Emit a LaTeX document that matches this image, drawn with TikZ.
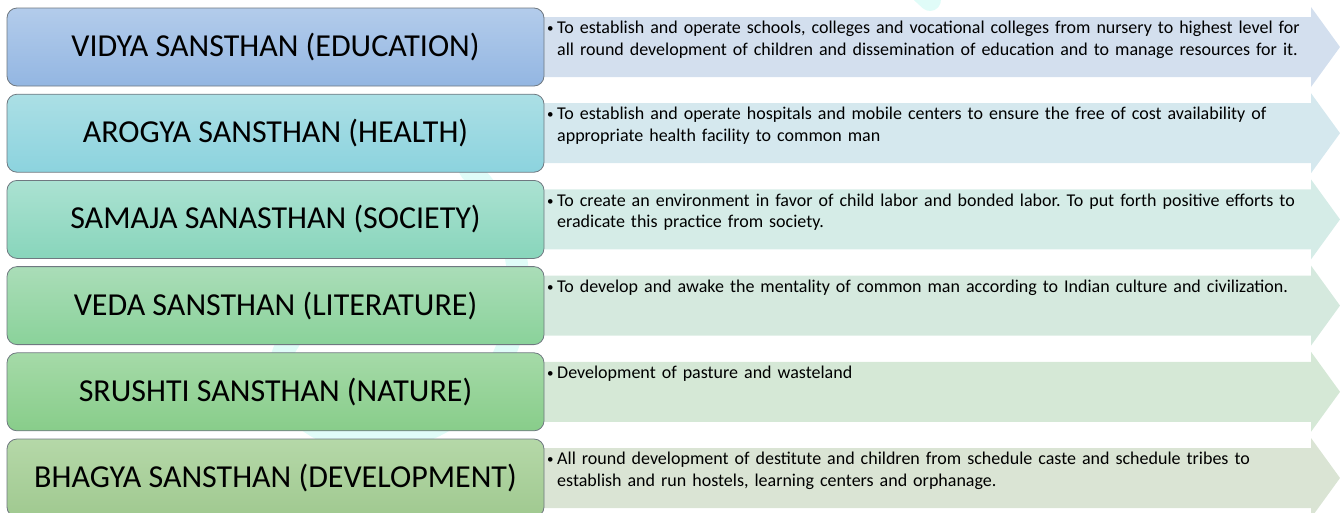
\documentclass[tikz,border=0pt]{standalone}
\usepackage{fontspec}
\setmainfont{Carlito}

% box gradients and band fills, one set per sansthan
\definecolor{boxline}{HTML}{6F7880}
\definecolor{vidyaTop}{HTML}{B3CCEB}
\definecolor{vidyaBot}{HTML}{93B6E2}
\definecolor{vidyaBand}{HTML}{D3DFEE}
\definecolor{arogyaTop}{HTML}{ABDFE5}
\definecolor{arogyaBot}{HTML}{8CD3DE}
\definecolor{arogyaBand}{HTML}{D5E8EE}
\definecolor{samajaTop}{HTML}{ABE2D2}
\definecolor{samajaBot}{HTML}{88D5BB}
\definecolor{samajaBand}{HTML}{D5ECE7}
\definecolor{vedaTop}{HTML}{AADDB8}
\definecolor{vedaBot}{HTML}{8AD29A}
\definecolor{vedaBand}{HTML}{D5E9DE}
\definecolor{srushtiTop}{HTML}{A5DAA8}
\definecolor{srushtiBot}{HTML}{88CD8A}
\definecolor{srushtiBand}{HTML}{D5E8D6}
\definecolor{bhagyaTop}{HTML}{B5D8A8}
\definecolor{bhagyaBot}{HTML}{A0C990}
\definecolor{bhagyaBand}{HTML}{DAE4D4}
\definecolor{wmark}{HTML}{E0FCF8}

% arrow band behind a box: #1 = centre y, #2 = fill
\newcommand{\bandarrow}[2]{%
  \fill[#2] (535,-#1+30) -- (1311,-#1+30) -- (1311,-#1+40) -- (1340,-#1)
    -- (1311,-#1-40) -- (1311,-#1-30) -- (535,-#1-30) -- cycle;}
% bulleted aim with hanging indent
\newcommand{\aim}[1]{\hangindent=10pt\hangafter=1\leavevmode
  \makebox[10pt][l]{\raisebox{1pt}{\fontsize{13}{13}\selectfont\textbullet}}#1\par}

\begin{document}
\begin{tikzpicture}[x=1pt,y=1pt,
  sbox/.style={draw=boxline, line width=0.8pt, rounded corners=10pt,
    minimum width=537pt, minimum height=78pt, inner sep=0pt,
    font=\fontsize{32}{38}\selectfont},
  desc/.style={anchor=north west, inner sep=0pt, align=left,
    text width=800pt, font=\fontsize{18}{21.5}\selectfont\frenchspacing},
  wm/.style={draw=wmark, line width=22pt, line cap=round}]

\useasboundingbox (0,0) rectangle (1340,-512);
\clip (0,0) rectangle (1340,-512);

% faint watermark behind everything
\draw[wm] (930,0) .. controls (800,120) and (640,280) .. (668,340)
  .. controls (700,400) and (900,330) .. (905,520);
\draw[wm] (470,-170) .. controls (560,-260) and (520,-420) .. (390,-440)
  .. controls (300,-450) and (260,-380) .. (290,-340);

% arrow bands
\bandarrow{47}{vidyaBand}
\bandarrow{133.2}{arogyaBand}
\bandarrow{219.4}{samajaBand}
\bandarrow{305.6}{vedaBand}
\bandarrow{391.8}{srushtiBand}
\bandarrow{478}{bhagyaBand}

% the six sansthans
\node[sbox, top color=vidyaTop, bottom color=vidyaBot] (vidya) at (275.5,-47) {VIDYA SANSTHAN (EDUCATION)};
\node[sbox, top color=arogyaTop, bottom color=arogyaBot] (arogya) at (275.5,-133.2) {AROGYA SANSTHAN (HEALTH)};
\node[sbox, top color=samajaTop, bottom color=samajaBot] (samaja) at (275.5,-219.4) {SAMAJA SANASTHAN (SOCIETY)};
\node[sbox, top color=vedaTop, bottom color=vedaBot] (veda) at (275.5,-305.6) {VEDA SANSTHAN (LITERATURE)};
\node[sbox, top color=srushtiTop, bottom color=srushtiBot] (srushti) at (275.5,-391.8) {SRUSHTI SANSTHAN (NATURE)};
\node[sbox, top color=bhagyaTop, bottom color=bhagyaBot] (bhagya) at (275.5,-478) {BHAGYA SANSTHAN (DEVELOPMENT)};

% aims, one per band
\node[desc] (vidyaAim) at (547,-21) {\aim{To establish and operate schools, colleges and vocational colleges from nursery to highest level for\newline all round development of children and dissemination of education and to manage resources for it.}};
\node[desc] (arogyaAim) at (547,-107.2) {\aim{To establish and operate hospitals and mobile centers to ensure the free of cost availability of\newline appropriate health facility to common man}};
\node[desc] (samajaAim) at (547,-193.4) {\aim{To create an environment in favor of child labor and bonded labor. To put forth positive efforts to\newline eradicate this practice from society.}};
\node[desc] (vedaAim) at (547,-279.6) {\aim{To develop and awake the mentality of common man according to Indian culture and civilization.}};
\node[desc] (srushtiAim) at (547,-365.8) {\aim{Development of pasture and wasteland}};
\node[desc] (bhagyaAim) at (547,-452) {\aim{All round development of destitute and children from schedule caste and schedule tribes to\newline establish and run hostels, learning centers and orphanage.}};

\end{tikzpicture}
\end{document}
